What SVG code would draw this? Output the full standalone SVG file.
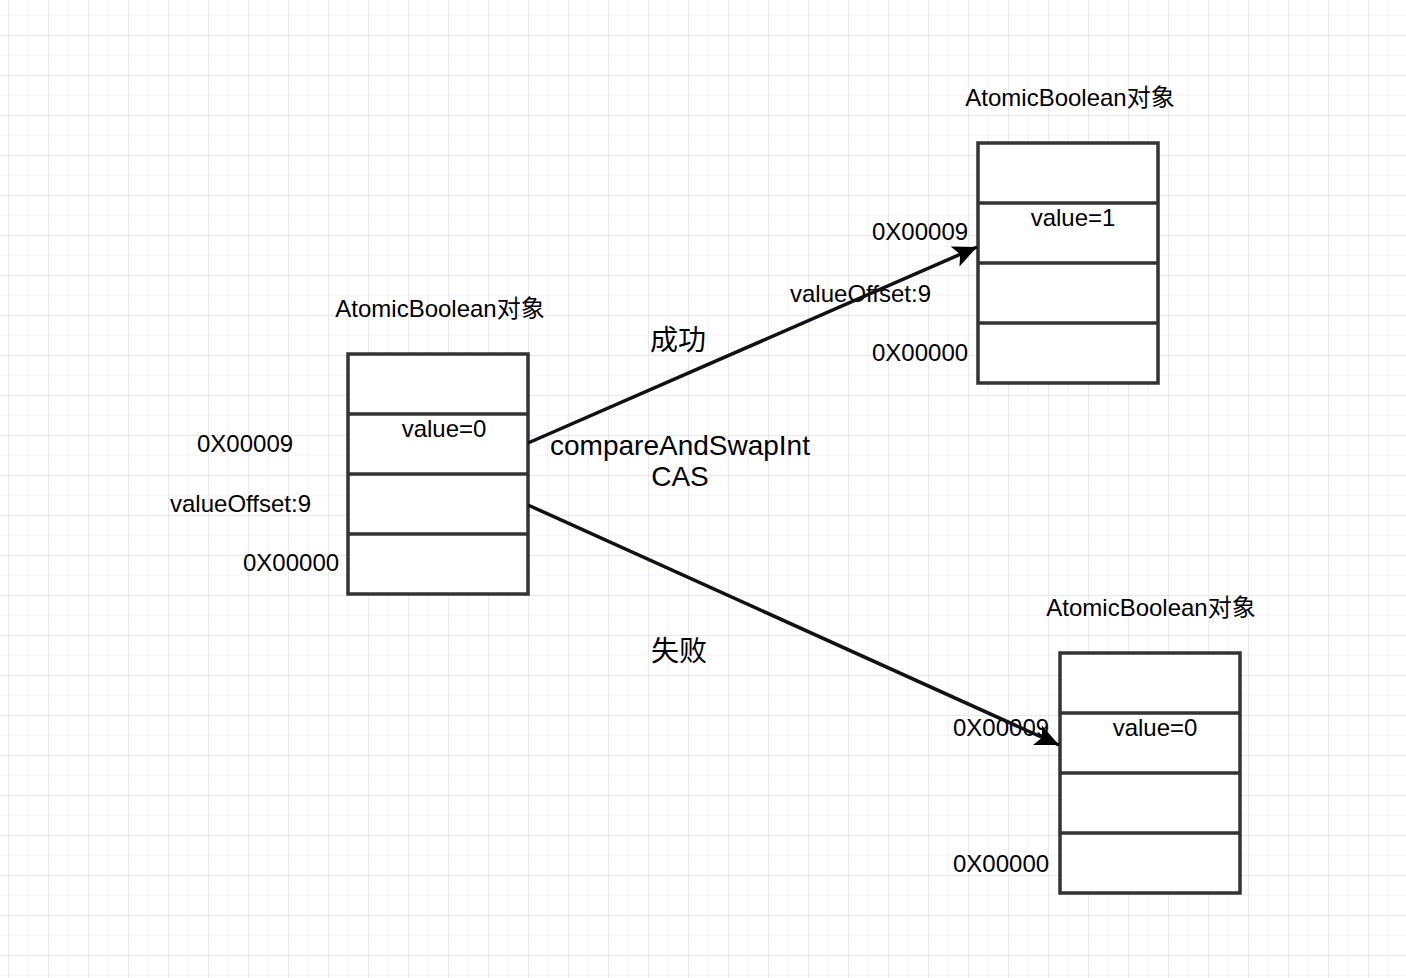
<svg xmlns="http://www.w3.org/2000/svg" width="1406" height="978" viewBox="0 0 1406 978">
<style>
.t{font-family:"Liberation Sans","Noto Sans CJK SC",sans-serif;font-size:24px;fill:#000}
.big{font-size:28px}
.cell{fill:#fff;stroke:#333;stroke-width:3.5}
.div{stroke:#333;stroke-width:3.5}
.conn{stroke:#111;stroke-width:3.5;fill:none}
</style>
<defs>
<pattern id="grid" x="8" y="-5" width="40" height="40" patternUnits="userSpaceOnUse">
<path d="M20,0 V40 M0,20 H40" stroke="#f1f1fb" stroke-width="1.2" fill="none"/>
<path d="M0.5,0 V40 M0,0.5 H40" stroke="#e7e7f8" stroke-width="1.2" fill="none"/>
</pattern>
<marker id="arr" markerUnits="userSpaceOnUse" markerWidth="26" markerHeight="22" refX="22" refY="10" orient="auto" viewBox="0 0 24 20">
<path d="M0,0 L22,10 L0,20 L5,10 Z" fill="#000"/>
</marker>
</defs>
<rect width="1406" height="978" fill="#fff"/>
<rect width="1406" height="978" fill="url(#grid)"/>

<g id="node-left">
<text class="t" x="440" y="317" text-anchor="middle">AtomicBoolean对象</text>
<rect class="cell" x="348" y="354" width="180" height="240"/>
<path class="div" d="M348,414 H528 M348,474 H528 M348,534 H528"/>
<text class="t" x="444" y="437" text-anchor="middle">value=0</text>
<text class="t" x="197" y="452">0X00009</text>
<text class="t" x="170" y="512">valueOffset:9</text>
<text class="t" x="243" y="571">0X00000</text>
</g>

<g id="node-top-right">
<text class="t" x="1070" y="106" text-anchor="middle">AtomicBoolean对象</text>
<rect class="cell" x="978" y="143" width="180" height="240"/>
<path class="div" d="M978,203 H1158 M978,263 H1158 M978,323 H1158"/>
<text class="t" x="1073" y="226" text-anchor="middle">value=1</text>
<text class="t" x="872" y="240">0X00009</text>
<text class="t" x="790" y="302">valueOffset:9</text>
<text class="t" x="872" y="361">0X00000</text>
</g>

<g id="node-bottom-right">
<text class="t" x="1151" y="616" text-anchor="middle">AtomicBoolean对象</text>
<rect class="cell" x="1060" y="653" width="180" height="240"/>
<path class="div" d="M1060,713 H1240 M1060,773 H1240 M1060,833 H1240"/>
<text class="t" x="1155" y="736" text-anchor="middle">value=0</text>
<text class="t" x="953" y="736">0X00009</text>
<text class="t" x="953" y="872">0X00000</text>
</g>

<g id="connectors">
<path class="conn" d="M528,443 L977,247" marker-end="url(#arr)"/>
<path class="conn" d="M528,505 L1059,745" marker-end="url(#arr)"/>
<text class="t big" x="678" y="350" text-anchor="middle">成功</text>
<text class="t big" x="679" y="661" text-anchor="middle">失败</text>
<text class="t big" x="680" y="455" text-anchor="middle">compareAndSwapInt</text>
<text class="t big" x="680" y="486" text-anchor="middle">CAS</text>
</g>
</svg>
